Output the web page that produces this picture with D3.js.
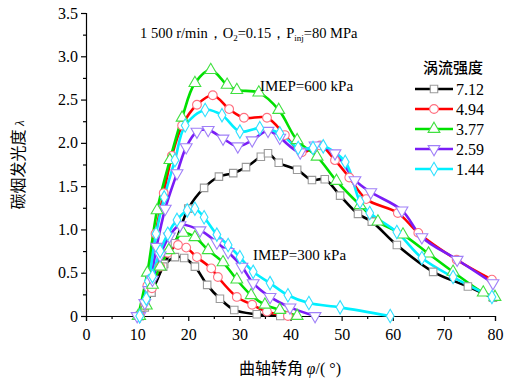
<!DOCTYPE html>
<html>
<head>
<meta charset="utf-8">
<script src="https://cdn.jsdelivr.net/npm/d3@7"></script>
<style>
  body { margin: 0; background: #fff; }
  svg text { font-family: "Liberation Serif", "Times New Roman", serif; }
  .cjk { font-family: "Noto Sans CJK SC", sans-serif; }
</style>
</head>
<body>
<svg id="chart" width="506" height="387"></svg>
<script>
// swirl ratios (legend)
const swirl = ['7.12', '4.94', '3.77', '2.59', '1.44'];

// IMEP = 600 kPa, [crank angle, soot luminosity]
const hi712 = [[10.5,0],[12.8,0.27],[15.3,0.6],[17.4,0.84],[20,1.24],[23.1,1.48],[26,1.61],[28.8,1.65],[31.3,1.72],[34.2,1.84],[35.6,1.88],[37.7,1.77],[41.3,1.69],[44.2,1.57],[46.7,1.58],[49.7,1.39],[53.2,1.18],[55.9,1.09],[60.8,0.82],[67.9,0.51],[74.7,0.34],[79.6,0.21]];
const hi494 = [[10.5,0],[12,0.35],[13.6,0.95],[15.2,1.42],[16.8,1.85],[18.8,2.2],[21.7,2.44],[24.8,2.55],[28,2.39],[30.9,2.29],[35.4,2.29],[38.9,2.09],[42.2,1.89],[45.8,1.97],[48.7,1.8],[51.5,1.6],[54.8,1.35],[61,1.19],[65,0.96],[72.5,0.65],[79.4,0.42]];
const hi377 = [[10.2,0],[12,0.5],[13.9,1.22],[16.4,1.8],[18.8,2.29],[21.3,2.69],[24.4,2.84],[27.6,2.67],[29.5,2.61],[33.8,2.58],[37.7,2.38],[41.3,2.03],[45.2,1.84],[49,1.56],[53.6,1.28],[57.1,1.09],[62,0.94],[67,0.72],[71.8,0.51],[77.7,0.27],[80,0.22]];
const hi259 = [[10.5,0],[12.3,0.3],[13.8,0.8],[15.5,1.24],[17.8,1.65],[19.6,1.95],[21.7,2.13],[23.9,2.15],[26.8,2.05],[29.7,1.96],[32.5,2.03],[35.6,2.14],[37.9,2.06],[41.9,1.89],[44.8,1.97],[48.7,1.88],[52.6,1.57],[55.7,1.43],[61.8,1.22],[65.7,0.91],[72.6,0.65],[79.6,0.38]];
const hi144 = [[10.5,0],[12.2,0.4],[13.7,0.95],[15.3,1.37],[17.4,1.8],[19.4,2.2],[23.3,2.38],[26.6,2.32],[30.1,2.13],[34,2.17],[37.9,2.11],[41.5,1.94],[44.4,1.94],[46.4,1.96],[50.7,1.78],[53.6,1.32],[55.5,1.19],[60.8,0.97],[65.7,0.67],[71.8,0.45],[79.4,0.22]];

// IMEP = 300 kPa
const lo712 = [[10.5,0],[11.5,0.1],[12.8,0.27],[15.1,0.57],[17.4,0.68],[19.2,0.67],[21.3,0.57],[23.7,0.36],[26.2,0.2],[29,0.07],[33.4,0.02],[38,0]];
const lo494 = [[10.5,0],[11.6,0.12],[12.9,0.32],[14.5,0.57],[16,0.73],[18,0.82],[19.6,0.79],[21.7,0.68],[24.5,0.55],[25.8,0.45],[29.5,0.22],[32.5,0.13],[35.4,0.05],[39.5,0]];
const lo377 = [[10.5,0],[11.8,0.12],[13,0.36],[14.5,0.57],[16.2,0.76],[19,0.96],[21.3,0.91],[23.9,0.76],[26.8,0.62],[29.5,0.42],[32.3,0.24],[35,0.13],[37.9,0.07],[41.3,0]];
const lo259 = [[10,0],[11.5,0.15],[13,0.42],[14.5,0.7],[16.3,0.92],[18.4,1.05],[22.3,0.99],[25.6,0.85],[27.8,0.74],[30.5,0.57],[32.7,0.38],[36,0.22],[39.9,0.1],[44.8,0]];
const lo144 = [[10.5,0],[11.8,0.2],[13,0.46],[14.5,0.75],[16,0.95],[17.8,1.11],[19.8,1.22],[21.3,1.24],[23.1,1.14],[25.6,0.94],[27.8,0.82],[30.1,0.68],[32.7,0.51],[36,0.38],[39.5,0.24],[43.6,0.15],[49.7,0.1],[59.5,0]];

const xTicks = [0, 10, 20, 30, 40, 50, 60, 70, 80];
const yTicks = [0, 0.5, 1.0, 1.5, 2.0, 2.5, 3.0, 3.5];

const lineColors = ['#000000', '#ff0000', '#00e000', '#7a1cf6', '#00f0ff'];
const markColors = ['#9a9a9a', '#ff7080', '#40e040', '#a080f8', '#30e0ff'];
const symbols = [d3.symbolSquare, d3.symbolCircle, d3.symbolTriangle, d3.symbolTriangle, d3.symbolDiamond];
const symRot = [0, 0, 0, 180, 0];
const symSize = [56, 60, 60, 60, 52];

const margin = { left: 86, top: 13, right: 11, bottom: 71 };
const W = 506, H = 387;
const svg = d3.select('#chart');

const x = d3.scaleLinear().domain([0, 80]).range([margin.left, W - margin.right]);
const y = d3.scaleLinear().domain([0, 3.5]).range([H - margin.bottom, margin.top]);

// axes
svg.append('g').attr('transform', `translate(0,${y(0)})`)
  .call(d3.axisBottom(x).tickValues(xTicks).tickSize(5).tickPadding(8).tickFormat(d3.format('d')));
svg.append('g').attr('transform', `translate(0,${y(0)})`)
  .call(d3.axisBottom(x).tickValues(d3.range(5, 80, 10)).tickSize(3).tickFormat(''))
  .select('.domain').remove();
svg.append('g').attr('transform', `translate(${x(0)},0)`)
  .call(d3.axisLeft(y).tickValues(yTicks).tickSize(5).tickPadding(3).tickFormat(d => d === 0 ? '0' : d3.format('.1f')(d)));
svg.append('g').attr('transform', `translate(${x(0)},0)`)
  .call(d3.axisLeft(y).tickValues(d3.range(0.25, 3.5, 0.5)).tickSize(3).tickFormat(''))
  .select('.domain').remove();

svg.selectAll('.domain').attr('stroke', '#000').attr('stroke-width', 1.2);
svg.selectAll('.tick line').attr('stroke', '#000').attr('stroke-width', 1.2);
svg.selectAll('.tick text').attr('font-size', 16).attr('fill', '#000')
  .style('font-family', '"Liberation Serif", serif');

// axis titles
svg.append('text').attr('x', 290).attr('y', 374).attr('text-anchor', 'middle')
  .attr('font-size', 16)
  .call(t => {
    t.append('tspan').attr('class', 'cjk').text('曲轴转角 ');
    t.append('tspan').attr('font-style', 'italic').text('φ');
    t.append('tspan').text('/( °)');
  });
svg.append('text').attr('transform', 'translate(24,165) rotate(-90)').attr('text-anchor', 'middle')
  .attr('font-size', 16)
  .call(t => {
    t.append('tspan').attr('class', 'cjk').text('碳烟发光度 ');
    t.append('tspan').attr('font-style', 'italic').attr('font-size', 13).text('λ');
  });

// series
const groups = [
  [hi712, hi494, hi377, hi259, hi144],
  [lo712, lo494, lo377, lo259, lo144]
];
const line = d3.line().x(d => x(d[0])).y(d => y(d[1])).curve(d3.curveCatmullRom.alpha(0.5));

groups.forEach(series => {
  series.forEach((data, i) => {
    svg.append('path').datum(data).attr('d', line)
      .attr('fill', 'none').attr('stroke', lineColors[i]).attr('stroke-width', 2.6);
  });
});
groups.forEach(series => {
  series.forEach((data, i) => {
    svg.append('g').selectAll('path').data(data).join('path')
      .attr('d', d3.symbol().type(symbols[i]).size(symSize[i]))
      .attr('transform', d => `translate(${x(d[0])},${y(d[1])}) rotate(${symRot[i]})`)
      .attr('fill', '#fff').attr('stroke', markColors[i]).attr('stroke-width', 1.1);
  });
});

// annotations
svg.append('text').attr('x', 140).attr('y', 38).attr('font-size', 14.5)
  .call(t => {
    t.append('tspan').text('1 500 r/min，O');
    t.append('tspan').attr('font-size', 9).attr('dy', 3).text('2');
    t.append('tspan').attr('dy', -3).text('=0.15，P');
    t.append('tspan').attr('font-size', 9).attr('dy', 3).text('inj');
    t.append('tspan').attr('dy', -3).text('=80 MPa');
  });
svg.append('text').attr('x', 260).attr('y', 91).attr('font-size', 15).text('IMEP=600 kPa');
svg.append('text').attr('x', 253).attr('y', 260).attr('font-size', 15).text('IMEP=300 kPa');

// legend
const lg = svg.append('g');
lg.append('text').attr('class', 'cjk').attr('x', 453).attr('y', 73).attr('text-anchor', 'middle')
  .attr('font-size', 15).attr('font-weight', 500).text('涡流强度');
swirl.forEach((s, i) => {
  const ly = 89 + i * 20;
  lg.append('line').attr('x1', 415).attr('x2', 453).attr('y1', ly).attr('y2', ly)
    .attr('stroke', lineColors[i]).attr('stroke-width', 2.6);
  lg.append('path').attr('d', d3.symbol().type(symbols[i]).size(symSize[i]))
    .attr('transform', `translate(434,${ly}) rotate(${symRot[i]})`)
    .attr('fill', '#fff').attr('stroke', markColors[i]).attr('stroke-width', 1.1);
  lg.append('text').attr('x', 456).attr('y', ly + 5.5).attr('font-size', 16).text(s);
});
</script>
</body>
</html>
